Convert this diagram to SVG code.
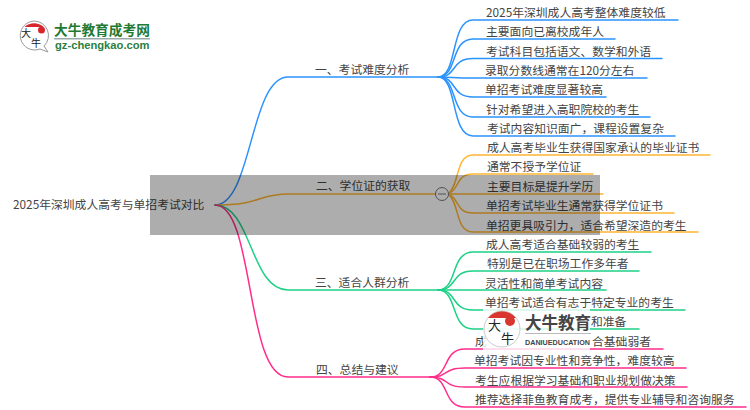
<svg xmlns="http://www.w3.org/2000/svg" width="750" height="410" viewBox="0 0 750 410">
<style>
text{font-family:"Noto Sans CJK SC","Liberation Sans",sans-serif;font-size:11.8px;fill:#444}
.c{fill:none;stroke-width:1.5;stroke-linecap:round}
.b{stroke:#2b93ff}.g{stroke:#ffb530}.n{stroke:#1dd186}.p{stroke:#ff2d8a}
.logo{font-weight:700}
</style>
<rect width="750" height="410" fill="#fff"/>
<g id="connectors">
<path class="c b" d="M215 205C252 205 250 77 288 77H438"/>
<path class="c g" d="M215 205C262 205 258 194 288 194H436"/>
<path class="c n" d="M215 205C252 205 250 290 288 290H438"/>
<path class="c p" d="M215 205C255 205 245 377 288 377H430"/>
<path class="c b" d="M438 77C458 77 450 20 473 20H678"/>
<path class="c b" d="M438 77C458 77 450 39 473 39H615"/>
<path class="c b" d="M438 77C458 77 450 58.500 473 58.500H662"/>
<path class="c b" d="M438 77C450 77 455 78 473 78H647"/>
<path class="c b" d="M438 77C458 77 450 97 473 97H606"/>
<path class="c b" d="M438 77C458 77 450 117 473 117H650"/>
<path class="c b" d="M438 77C458 77 450 136 473 136H675"/>
<path class="c g" d="M448 194C460 185 455 155 473 155H710"/>
<path class="c g" d="M448 194C460 190 455 174 473 174H593"/>
<path class="c g" d="M449 194H603"/>
<path class="c g" d="M448 194C460 198 455 213 473 213H674"/>
<path class="c g" d="M448 194C460 203 455 232 473 232H698"/>
<path class="c n" d="M438 290C458 290 450 252 473 252H651"/>
<path class="c n" d="M438 290C458 290 450 271 473 271H639"/>
<path class="c n" d="M438 290H606"/>
<path class="c n" d="M438 290C458 290 450 310 473 310H685"/>
<path class="c n" d="M438 290C458 290 450 329 473 329H639"/>
<path class="c p" d="M430 377C450 377 442 349 465 349H663"/>
<path class="c p" d="M430 377C450 377 442 368 465 368H686"/>
<path class="c p" d="M430 377C450 377 442 387 465 387H687"/>
<path class="c p" d="M430 377C450 377 442 407 465 407H746"/>
</g>
<g id="root"><text x="13" y="209">2025年深圳成人高考与单招考试对比</text></g>
<g id="branch1"><text x="315" y="74">一、考试难度分析</text>
<text x="486" y="16.500">2025年深圳成人高考整体难度较低</text>
<text x="486" y="36">主要面向已离校成年人</text>
<text x="486" y="55.500">考试科目包括语文、数学和外语</text>
<text x="485" y="74.500">录取分数线通常在120分左右</text>
<text x="485" y="94">单招考试难度显著较高</text>
<text x="486" y="113.500">针对希望进入高职院校的考生</text>
<text x="487" y="133">考试内容知识面广，课程设置复杂</text></g>
<g id="branch2"><text x="316" y="190">二、学位证的获取</text>
<text x="487" y="152">成人高考毕业生获得国家承认的毕业证书</text>
<text x="487" y="171">通常不授予学位证</text>
<text x="487" y="190.500">主要目标是提升学历</text>
<text x="486" y="210">单招考试毕业生通常获得学位证书</text>
<text x="486" y="229.500">单招更具吸引力，适合希望深造的考生</text>
<g id="collapse"><circle cx="442" cy="194" r="6.500" fill="#fff" stroke="#777"/><path d="M438 194H446" stroke="#777"/></g></g>
<g id="branch3"><text x="315" y="287">三、适合人群分析</text>
<text x="486" y="248.500">成人高考适合基础较弱的考生</text>
<text x="487" y="268">特别是已在职场工作多年者</text>
<text x="485" y="287.500">灵活性和简单考试内容</text>
<text x="485" y="306.500">单招考试适合有志于特定专业的考生</text>
<text x="591" y="326">和准备</text></g>
<g id="branch4"><text x="316" y="374">四、总结与建议</text>
<text x="475" y="345.500">成</text><text x="592" y="345.500">合基础弱者</text>
<text x="474" y="365">单招考试因专业性和竞争性，难度较高</text>
<text x="475" y="384.500">考生应根据学习基础和职业规划做决策</text>
<text x="475" y="404">推荐选择菲鱼教育成考，提供专业辅导和咨询服务</text></g>
<rect id="overlay" x="150" y="175" width="450" height="60" fill="#000" fill-opacity=".32"/>
<g id="logo-top">
<path d="M34 21A14.500 14.500 0 1 0 40 49L48 52L44 46A14.500 14.500 0 0 0 34 21Z" fill="#fff" stroke="#999"/>
<path d="M24.500 27A14 14 0 0 1 43.500 27Z" fill="#d8262c"/>
<circle cx="41.500" cy="30" r="3.500" fill="#d8262c"/>
<text x="21" y="37" style="font-size:10px;fill:#222">大</text><text x="31" y="47" style="font-size:10px;fill:#222">牛</text>
<text class="logo" x="54" y="35" style="font-size:13.700px;fill:#1f7a33">大牛教育成考网</text>
<rect x="54" y="38" width="96" height="1.500" fill="#9aa"/>
<text class="logo" x="55" y="49" style="font-size:11.200px;fill:#2a8040;font-family:'Liberation Sans',sans-serif">gz-chengkao.com</text>
</g>
<g id="logo-watermark">
<rect x="483" y="309" width="107" height="41" fill="#fff" fill-opacity=".8"/>
<circle cx="502" cy="329" r="18" fill="#fff" fill-opacity=".6" stroke="#ccc"/>
<path d="M488 318A18 18 0 0 1 516 318Z" fill="#d8362f"/>
<circle cx="510" cy="321" r="5" fill="#d8362f"/>
<text x="488" y="330" style="font-size:13px;fill:#222">大</text><text x="501" y="343" style="font-size:13px;fill:#222">牛</text>
<text class="logo" x="525" y="329" style="font-size:16.500px;fill:#444">大牛教育</text>
<rect x="525" y="333" width="66" height="1" fill="#bbb"/>
<text class="logo" x="525" y="345" style="font-size:7.200px;fill:#444;font-family:'Liberation Sans',sans-serif">DANIUEDUCATION</text>
</g>
</svg>
